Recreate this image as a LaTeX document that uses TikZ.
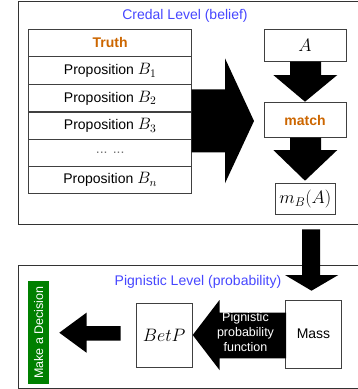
\RequirePackage{fix-cm}
\documentclass[tikz,border=0pt]{standalone}
\usepackage{fontspec}
\setmainfont{Liberation Sans}
\definecolor{lvlblue}{RGB}{70,70,255}
\definecolor{orng}{RGB}{204,102,0}
\definecolor{dgreen}{RGB}{0,128,0}
\newcommand\mymath[2]{{\fontsize{#1}{#1}\selectfont$#2$}}
\begin{document}
\begin{tikzpicture}[x=1pt,y=-1pt,
  txt/.style={font=\fontsize{14}{16}\selectfont},
  cell/.style={draw=black!75,line width=0.9pt,minimum width=163pt,minimum height=27.4pt,inner sep=0pt,txt},
  box/.style={draw=black!75,line width=0.9pt,inner sep=0pt,txt},
  frame/.style={draw=black!80,line width=1pt},
  bigarrow/.style={fill=black,draw=none}]
\clip (0,0) rectangle (358,389);
% frames
\draw[frame] (18,1) rectangle (380,224.3);
\draw[frame] (18,265.5) rectangle (380,388.3);
\node[txt,text=lvlblue] (credal) at (185,15.5) {Credal Level (belief)};
% table
\node[cell,text=orng,font=\fontsize{14}{16}\selectfont\bfseries] (truth) at (110.2,42.85) {Truth};
\node[cell] (b1) at (110.2,70.5) {Proposition \mymath{16.5}{B_1}};
\node[cell] (b2) at (110.2,98.15) {Proposition \mymath{16.5}{B_2}};
\node[cell] (b3) at (110.2,125.65) {Proposition \mymath{16.5}{B_3}};
\node[cell] (dots) at (110.2,152.65) {\textcolor{black!55}{... ...}};
\node[cell] (bn) at (110.2,179.65) {Proposition \mymath{16.5}{B_n}};
% big right arrow
\fill[bigarrow] (191.7,89.3) -- (225,89.3) -- (225,58.3) -- (254,121) -- (225,183.3) -- (225,152.3) -- (191.7,152.3) -- cycle;
% right column
\node[box,minimum width=82pt,minimum height=32.7pt] (A) at (305,45.3) {\mymath{18}{A}};
\node[box,minimum width=82pt,minimum height=35pt,text=orng,font=\fontsize{14}{16}\selectfont\bfseries] (match) at (305,120.2) {match};
\node[box,minimum width=60.7pt,minimum height=31pt] (mb) at (305.3,198.8) {\mymath{18}{m_B(A)}};
\fill[bigarrow] (290,61.7) -- (321,61.7) -- (321,75) -- (337.3,75) -- (305,101.7) -- (273.3,75) -- (290,75) -- cycle;
\fill[bigarrow] (290,137.7) -- (321,137.7) -- (321,150) -- (337.3,150) -- (305,180.7) -- (273.3,150) -- (290,150) -- cycle;
% between levels
\fill[bigarrow] (302,229.3) -- (320,229.3) -- (320,275) -- (338.3,275) -- (311.5,290.7) -- (285,275) -- (302,275) -- cycle;
% pignistic level
\node[txt,text=lvlblue] (pign) at (198,282) {Pignistic Level (probability)};
\node[box,minimum width=56pt,minimum height=68pt] (mass) at (313.5,334) {Mass};
\node[box,minimum width=56pt,minimum height=64pt] (betp) at (164.2,335.7) {\mymath{18}{BetP}};
\fill[bigarrow] (286,312.7) -- (219.5,312.7) -- (219.5,300) -- (192.7,335) -- (219.5,370) -- (219.5,358.3) -- (286,358.3) -- cycle;
\node[text=white,align=center,inner sep=0pt,font=\fontsize{12.5}{15}\selectfont] (ppf) at (245.5,332) {Pignistic\\probability\\function};
\fill[bigarrow] (120.5,326) -- (86.5,326) -- (86.5,312.7) -- (59.3,332.7) -- (86.5,352.7) -- (86.5,340.7) -- (120.5,340.7) -- cycle;
\node[fill=dgreen,text=white,rotate=90,minimum width=103pt,minimum height=21.3pt,inner sep=0pt,font=\fontsize{12.5}{14}\selectfont] (dec) at (38.6,332.5) {Make a Decision};
\end{tikzpicture}
\end{document}
